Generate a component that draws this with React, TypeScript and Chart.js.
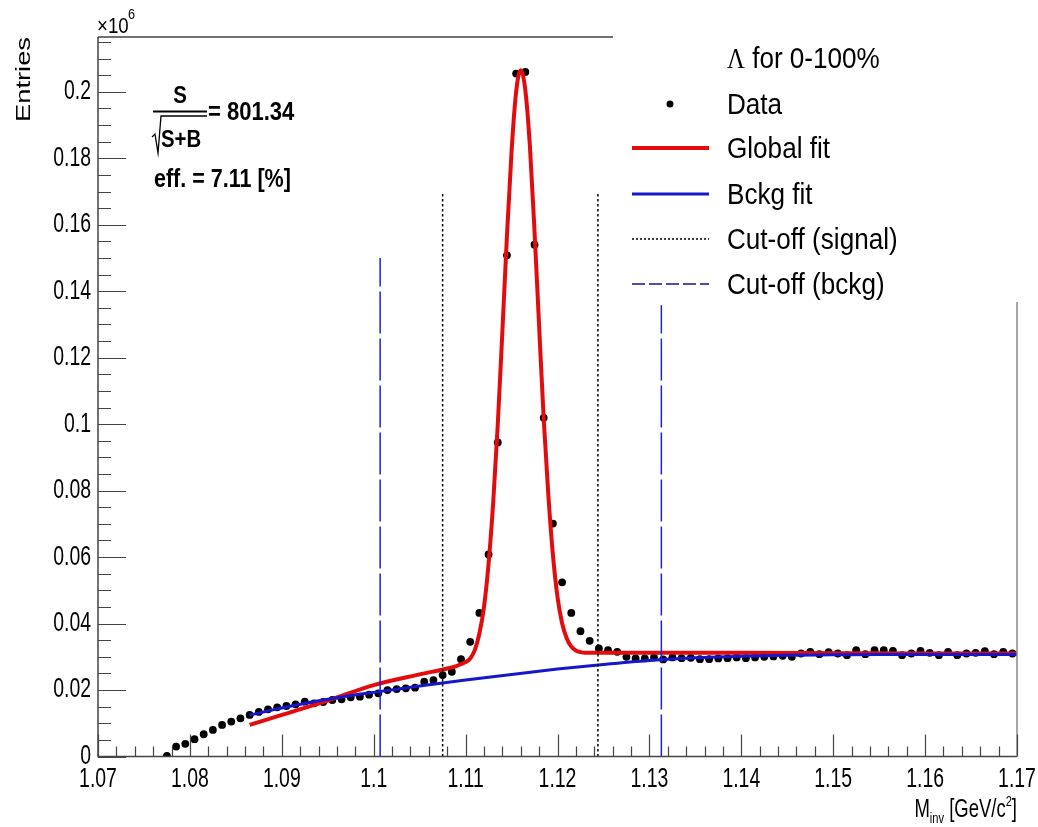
import React, { useEffect, useRef } from "react";
import { Chart, registerables } from "chart.js";
Chart.register(...registerables);

// ---- data (values in units of 10^6 entries) ----
const massBins = [
  1.0775, 1.0785, 1.0795, 1.0805, 1.0815, 1.0825, 1.0835, 1.0845, 1.0855, 1.0865,
  1.0875, 1.0885, 1.0895, 1.0905, 1.0915, 1.0925, 1.0935, 1.0945, 1.0955, 1.0965,
  1.0975, 1.0985, 1.0995, 1.1005, 1.1015, 1.1025, 1.1035, 1.1045, 1.1055, 1.1065,
  1.1075, 1.1085, 1.1095, 1.1105, 1.1115, 1.1125, 1.1135, 1.1145, 1.1155, 1.1165,
  1.1175, 1.1185, 1.1195, 1.1205, 1.1215, 1.1225, 1.1235, 1.1245, 1.1255, 1.1265,
  1.1275, 1.1285, 1.1295, 1.1305, 1.1315, 1.1325, 1.1335, 1.1345, 1.1355, 1.1365,
  1.1375, 1.1385, 1.1395, 1.1405, 1.1415, 1.1425, 1.1435, 1.1445, 1.1455, 1.1465,
  1.1475, 1.1485, 1.1495, 1.1505, 1.1515, 1.1525, 1.1535, 1.1545, 1.1555, 1.1565,
  1.1575, 1.1585, 1.1595, 1.1605, 1.1615, 1.1625, 1.1635, 1.1645, 1.1655, 1.1665,
  1.1675, 1.1685, 1.1695,
];
const entries = [
  0.0002, 0.0030, 0.0038, 0.0052, 0.0067, 0.0080, 0.0095, 0.0105, 0.0115, 0.0125,
  0.0134, 0.0142, 0.0148, 0.0152, 0.0157, 0.0165, 0.0160, 0.0164, 0.0170, 0.0172,
  0.0178, 0.0180, 0.0186, 0.0190, 0.0200, 0.0203, 0.0205, 0.0207, 0.0225, 0.0230,
  0.0245, 0.0255, 0.0293, 0.0345, 0.0432, 0.0608, 0.0945, 0.1508, 0.2055, 0.2060,
  0.1540, 0.1019, 0.0701, 0.0524, 0.0432, 0.0377, 0.0348, 0.0325, 0.0320, 0.0315,
  0.0300, 0.0295, 0.0295, 0.0298, 0.0292, 0.0298, 0.0296, 0.0297, 0.0293, 0.0293,
  0.0295, 0.0296, 0.0298, 0.0296, 0.0298, 0.0300, 0.0301, 0.0303, 0.0300, 0.0310,
  0.0315, 0.0308, 0.0314, 0.0310, 0.0305, 0.0320, 0.0308, 0.0320, 0.0320, 0.0318,
  0.0305, 0.0310, 0.0318, 0.0312, 0.0305, 0.0315, 0.0305, 0.0310, 0.0312, 0.0317,
  0.0308, 0.0315, 0.0310,
];

const globalFitX = [
  1.0865, 1.09, 1.095, 1.1, 1.105, 1.108, 1.109, 1.1095, 1.11, 1.1105, 1.111, 1.1115,
  1.112, 1.1125, 1.113, 1.1135, 1.114, 1.1145, 1.115, 1.1155, 1.116, 1.1165, 1.117,
  1.1175, 1.118, 1.1185, 1.119, 1.1195, 1.12, 1.1205, 1.121, 1.1215, 1.122, 1.1225,
  1.123, 1.125, 1.13, 1.14, 1.15, 1.16, 1.17,
];
const globalFitY = [
  0.0095, 0.0125, 0.0168, 0.0215, 0.0247, 0.0265, 0.0272, 0.0278, 0.0284, 0.0295, 0.0320, 0.0370,
  0.0450, 0.0580, 0.0763, 0.0999, 0.1278, 0.1567, 0.1820, 0.2000, 0.2065, 0.2005, 0.1835,
  0.1580, 0.1295, 0.1015, 0.0788, 0.0607, 0.0480, 0.0401, 0.0356, 0.0331, 0.0319, 0.0314,
  0.0312, 0.0312, 0.0312, 0.0312, 0.0311, 0.0310, 0.0310,
];

const bckgFitX = [
  1.0865, 1.09, 1.095, 1.1, 1.105, 1.11, 1.115, 1.12, 1.125, 1.13, 1.135, 1.14, 1.145,
  1.15, 1.155, 1.16, 1.165, 1.17,
];
const bckgFitY = [
  0.0125, 0.0146, 0.0172, 0.0193, 0.0212, 0.0230, 0.0247, 0.0263, 0.0277, 0.0289, 0.0297,
  0.0302, 0.0305, 0.0306, 0.0307, 0.0307, 0.0307, 0.0307,
];

const signalCutX = [1.1075, 1.1244];
const signalCutTop = [0.170, 0.170];
const bckgCutX = [1.1007, 1.1313];
const bckgCutTop = [0.150, 0.1358];

const xTickLabels = ["1.07", "1.08", "1.09", "1.1", "1.11", "1.12", "1.13", "1.14", "1.15", "1.16", "1.17"];
const xTickValues = [1.07, 1.08, 1.09, 1.1, 1.11, 1.12, 1.13, 1.14, 1.15, 1.16, 1.17];
const yTickLabels = ["0", "0.02", "0.04", "0.06", "0.08", "0.1", "0.12", "0.14", "0.16", "0.18", "0.2"];
const yTickValues = [0, 0.02, 0.04, 0.06, 0.08, 0.1, 0.12, 0.14, 0.16, 0.18, 0.2];

const legendHeader = " for 0-100%";
const legendLabels = ["Data", "Global fit", "Bckg fit", "Cut-off (signal)", "Cut-off (bckg)"];

const RED = "rgb(226,12,14)";
const BLUE = "rgb(22,22,205)";
const DASHBLUE = "rgb(30,30,220)";
const SANS = "'Liberation Sans', Arial, Helvetica, sans-serif";

function txt(
  ctx: CanvasRenderingContext2D,
  s: string,
  x: number,
  y: number,
  font: string,
  sx: number,
  align: CanvasTextAlign = "left",
  baseline: CanvasTextBaseline = "alphabetic",
) {
  ctx.save();
  ctx.font = font;
  ctx.fillStyle = "#000";
  ctx.textAlign = align;
  ctx.textBaseline = baseline;
  ctx.translate(x, y);
  ctx.scale(sx, 1);
  ctx.fillText(s, 0, 0);
  ctx.restore();
}
function measure(ctx: CanvasRenderingContext2D, s: string, font: string, sx: number) {
  ctx.save();
  ctx.font = font;
  const w = ctx.measureText(s).width * sx;
  ctx.restore();
  return w;
}

const rootPlugin = {
  id: "rootFrame",
  afterDatasetsDraw(chart: any) {
    const ctx: CanvasRenderingContext2D = chart.ctx;
    const xs = chart.scales.x;
    const ys = chart.scales.y;
    const { left, right, top, bottom } = chart.chartArea;
    ctx.save();
    // frame
    ctx.strokeStyle = "#444";
    ctx.lineWidth = 1.5;
    ctx.beginPath();
    ctx.moveTo(left, top);
    ctx.lineTo(left, bottom);
    ctx.lineTo(right, bottom);
    ctx.moveTo(left, top);
    ctx.lineTo(613, top);
    ctx.stroke();
    ctx.strokeStyle = "#888";
    ctx.beginPath();
    ctx.moveTo(right, 302);
    ctx.lineTo(right, bottom);
    ctx.stroke();
    // y ticks
    ctx.strokeStyle = "#444";
    ctx.lineWidth = 1.2;
    ctx.beginPath();
    for (let i = 0; i <= 43; i++) {
      const v = i * 0.005;
      if (v > ys.max) break;
      const py = Math.round(ys.getPixelForValue(v)) + 0.5;
      const len = i % 4 === 0 ? 28 : 13;
      ctx.moveTo(left, py);
      ctx.lineTo(left + len, py);
    }
    // x ticks
    for (let i = 0; i <= 50; i++) {
      const v = 1.07 + i * 0.002;
      const px = Math.round(xs.getPixelForValue(v)) + 0.5;
      const len = i % 5 === 0 ? 22 : 10;
      ctx.moveTo(px, bottom);
      ctx.lineTo(px, bottom - len);
    }
    ctx.stroke();
    ctx.restore();

    const tickFont = `27px ${SANS}`;
    yTickValues.forEach((v, i) => {
      txt(ctx, yTickLabels[i], left - 7, ys.getPixelForValue(v), tickFont, 0.72, "right", "middle");
    });
    xTickValues.forEach((v, i) => {
      txt(ctx, xTickLabels[i], xs.getPixelForValue(v), bottom + 30, tickFont, 0.72, "center", "alphabetic");
    });
  },
  afterDraw(chart: any) {
    const ctx: CanvasRenderingContext2D = chart.ctx;
    // y title
    ctx.save();
    ctx.translate(30, 37);
    ctx.rotate(-Math.PI / 2);
    ctx.scale(1.3, 1);
    ctx.font = `21px ${SANS}`;
    ctx.fillStyle = "#000";
    ctx.textAlign = "right";
    ctx.textBaseline = "alphabetic";
    ctx.fillText("Entries", 0, 0);
    ctx.restore();
    // x10^6
    txt(ctx, "\u00d710", 97, 33, `22px ${SANS}`, 0.85);
    txt(ctx, "6", 128, 19, `15px ${SANS}`, 0.85);
    // x title (right aligned at 1017)
    {
      const big = `25px ${SANS}`;
      const small = `15px ${SANS}`;
      const sx = 0.74;
      const parts: [string, string, number][] = [
        ["M", big, 0],
        ["inv", small, 6],
        [" [GeV/c", big, 0],
        ["2", small, -11],
        ["]", big, 0],
      ];
      let total = 0;
      parts.forEach((p) => (total += measure(ctx, p[0], p[1], sx)));
      let x = 1017 - total;
      parts.forEach((p) => {
        txt(ctx, p[0], x, 817 + p[2], p[1], sx);
        x += measure(ctx, p[0], p[1], sx);
      });
    }
    // S / sqrt(S+B) annotation
    {
      const bold = `bold 24px ${SANS}`;
      txt(ctx, "S", 180, 103, bold, 0.85, "center");
      ctx.save();
      ctx.strokeStyle = "#000";
      ctx.lineWidth = 2;
      ctx.beginPath();
      ctx.moveTo(153, 111.5);
      ctx.lineTo(207, 111.5);
      ctx.stroke();
      ctx.lineWidth = 1.3;
      ctx.beginPath();
      ctx.moveTo(152, 137);
      ctx.lineTo(155, 134);
      ctx.lineTo(158, 153);
      ctx.lineTo(161, 116);
      ctx.lineTo(207, 116);
      ctx.stroke();
      ctx.restore();
      txt(ctx, "S+B", 161, 147, bold, 0.85);
      txt(ctx, "= 801.34", 208, 120, `bold 25px ${SANS}`, 0.88);
      txt(ctx, "eff. = 7.11 [%]", 154, 187, `bold 25px ${SANS}`, 0.86);
    }
    // legend
    {
      const lf = `30px ${SANS}`;
      const lsx = 0.87;
      const tx = 727;
      const sf = `29px 'Liberation Serif', 'DejaVu Serif', serif`;
      txt(ctx, "\u039b", tx, 68, sf, 0.85);
      const lw = measure(ctx, "\u039b", sf, 0.85);
      txt(ctx, legendHeader, tx + lw, 68, lf, lsx);
      const rowsY = [104, 148, 194, 239, 284];
      legendLabels.forEach((l, i) => txt(ctx, l, tx, rowsY[i] + 10, lf, lsx));
      ctx.save();
      // data marker
      ctx.fillStyle = "#000";
      ctx.beginPath();
      ctx.arc(670, rowsY[0], 3.5, 0, Math.PI * 2);
      ctx.fill();
      ctx.lineCap = "butt";
      ctx.strokeStyle = RED;
      ctx.lineWidth = 4;
      ctx.beginPath();
      ctx.moveTo(632, rowsY[1]);
      ctx.lineTo(709, rowsY[1]);
      ctx.stroke();
      ctx.strokeStyle = BLUE;
      ctx.lineWidth = 3;
      ctx.beginPath();
      ctx.moveTo(632, rowsY[2]);
      ctx.lineTo(709, rowsY[2]);
      ctx.stroke();
      ctx.strokeStyle = "#000";
      ctx.lineWidth = 1.5;
      ctx.setLineDash([2, 2]);
      ctx.beginPath();
      ctx.moveTo(632, rowsY[3]);
      ctx.lineTo(709, rowsY[3]);
      ctx.stroke();
      ctx.strokeStyle = "rgb(20,20,140)";
      ctx.lineWidth = 1.5;
      ctx.setLineDash([13, 4]);
      ctx.beginPath();
      ctx.moveTo(632, rowsY[4]);
      ctx.lineTo(709, rowsY[4]);
      ctx.stroke();
      ctx.restore();
    }
  },
};

export default function App() {
  const ref = useRef<HTMLCanvasElement | null>(null);
  useEffect(() => {
    if (!ref.current) return;
    const pts = (xs: number[], ys: number[]) => xs.map((x, i) => ({ x, y: ys[i] }));
    const vline = (x: number, top: number) => [
      { x, y: 0 },
      { x, y: top },
    ];
    const cutDatasets: any[] = [];
    signalCutX.forEach((x, i) =>
      cutDatasets.push({
        data: vline(x, signalCutTop[i]),
        showLine: true,
        pointRadius: 0,
        borderColor: "#000",
        borderWidth: 1.5,
        borderDash: [2.5, 2.5],
        order: 1,
      }),
    );
    bckgCutX.forEach((x, i) =>
      cutDatasets.push({
        data: vline(x, bckgCutTop[i]),
        showLine: true,
        pointRadius: 0,
        borderColor: DASHBLUE,
        borderWidth: 1.5,
        borderDash: [42, 5],
        order: 1,
      }),
    );
    const chart = new Chart(ref.current, {
      type: "scatter",
      data: {
        datasets: [
          {
            label: "Data",
            data: pts(massBins, entries),
            pointRadius: 3.9,
            pointBackgroundColor: "#000",
            pointBorderWidth: 0,
            showLine: false,
            order: 4,
          },
          {
            label: "Global fit",
            data: pts(globalFitX, globalFitY),
            showLine: true,
            pointRadius: 0,
            borderColor: RED,
            borderWidth: 4,
            cubicInterpolationMode: "monotone",
            order: 3,
          },
          {
            label: "Bckg fit",
            data: pts(bckgFitX, bckgFitY),
            showLine: true,
            pointRadius: 0,
            borderColor: BLUE,
            borderWidth: 3,
            cubicInterpolationMode: "monotone",
            order: 2,
          },
          ...cutDatasets,
        ],
      },
      options: {
        responsive: false,
        animation: false,
        devicePixelRatio: 1,
        events: [],
        layout: { padding: { left: 98, right: 21, top: 37, bottom: 70.5 } },
        plugins: { legend: { display: false }, tooltip: { enabled: false } },
        scales: {
          x: { type: "linear", min: 1.07, max: 1.17, display: false },
          y: { type: "linear", min: 0, max: 0.2165, display: false },
        },
      },
      plugins: [rootPlugin],
    } as any);
    return () => chart.destroy();
  }, []);
  return (
    <div style={{ position: "absolute", left: 0, top: 0, width: 1038, height: 827, background: "#fff" }}>
      <canvas ref={ref} width={1038} height={827} style={{ display: "block" }} />
    </div>
  );
}
